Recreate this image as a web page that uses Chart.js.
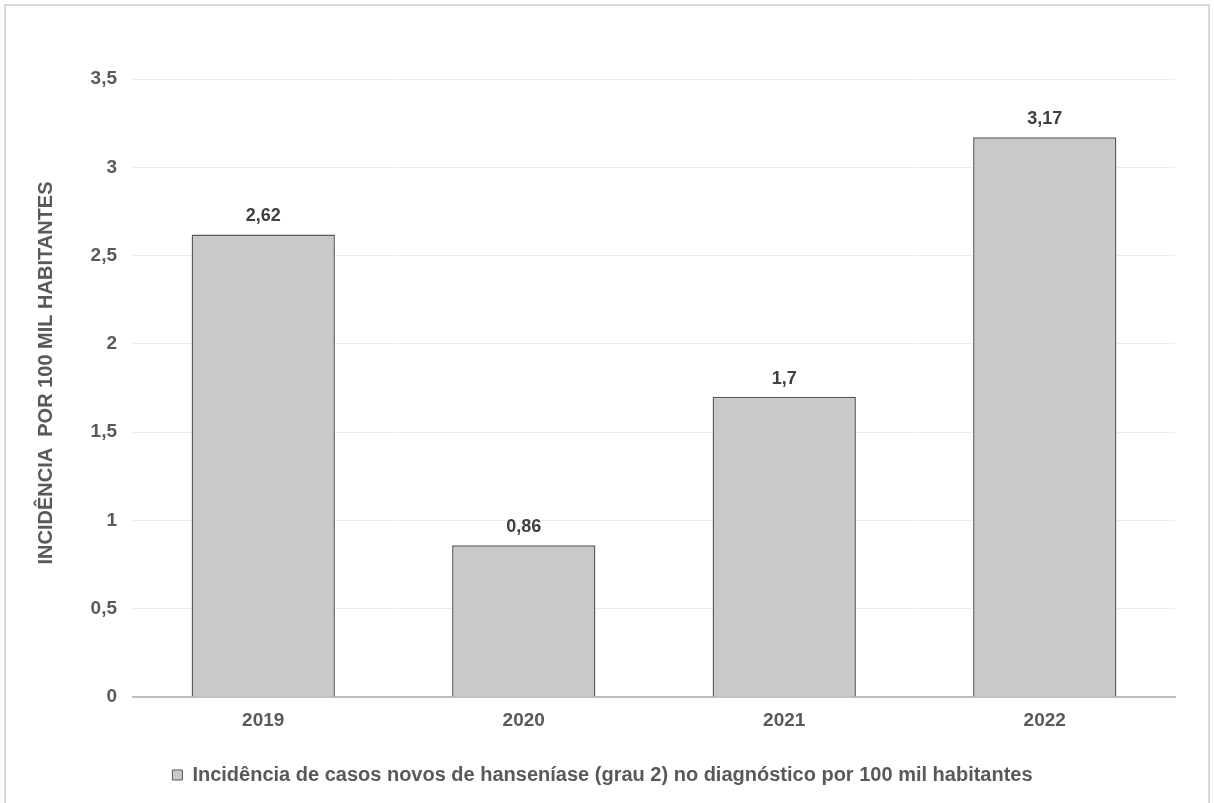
<!DOCTYPE html>
<html lang="pt-BR">
<head>
<meta charset="utf-8">
<title>Incidência de hanseníase grau 2</title>
<script src="https://cdn.jsdelivr.net/npm/chart.js@4.4.1/dist/chart.umd.min.js"></script>
<style>
  html, body { margin: 0; padding: 0; background: #ffffff; }
  #wrap { position: relative; width: 1214px; height: 803px; overflow: hidden; }
  #frame { position: absolute; left: 4px; top: 4px; width: 1206px; height: 820px;
           border: 2px solid #d9d9d9; box-sizing: border-box; pointer-events: none; }
  canvas { position: absolute; left: 0; top: 0; }
</style>
</head>
<body>
<div id="wrap">
  <canvas id="chart" width="1214" height="803"></canvas>
  <div id="frame"></div>
</div>
<script>
// Anos e incidência de casos novos com grau 2 de incapacidade (por 100 mil hab.)
const years = ['2019', '2020', '2021', '2022'];
const incidence = [2.62, 0.86, 1.7, 3.17];
const yTicks = [0, 0.5, 1, 1.5, 2, 2.5, 3, 3.5];
const seriesLabel = 'Incidência de casos novos de hanseníase (grau 2) no diagnóstico por 100 mil habitantes';
const yTitle = 'INCIDÊNCIA  POR 100 MIL HABITANTES';

const FONT = '"Liberation Sans", Arial, sans-serif';
const fmt = v => String(v).replace('.', ',');

// Rótulos de valor acima de cada barra
const valueLabels = {
  id: 'valueLabels',
  afterDatasetsDraw(chart) {
    const ctx = chart.ctx;
    const meta = chart.getDatasetMeta(0);
    ctx.save();
    ctx.font = 'bold 18px ' + FONT;
    ctx.fillStyle = '#404040';
    ctx.textAlign = 'center';
    ctx.textBaseline = 'bottom';
    meta.data.forEach((bar, i) => {
      ctx.fillText(fmt(chart.data.datasets[0].data[i]), bar.x, bar.y - 9);
    });
    ctx.restore();
  }
};

// Título do eixo vertical, girado, um pouco acima do centro da área do gráfico
const yAxisTitle = {
  id: 'yAxisTitle',
  afterDraw(chart) {
    const ctx = chart.ctx;
    const area = chart.chartArea;
    ctx.save();
    ctx.translate(46, (area.top + area.bottom) / 2 - 15);
    ctx.rotate(-Math.PI / 2);
    ctx.font = 'bold 20px ' + FONT;
    ctx.fillStyle = '#595959';
    ctx.textAlign = 'center';
    ctx.textBaseline = 'middle';
    ctx.fillText(yTitle, 0, 0);
    ctx.restore();
  }
};

new Chart(document.getElementById('chart'), {
  type: 'bar',
  data: {
    labels: years,
    datasets: [{
      label: seriesLabel,
      data: incidence,
      backgroundColor: '#c9c9c9',
      borderColor: '#595959',
      borderWidth: 1.5,
      barPercentage: 0.55,
      categoryPercentage: 1
    }]
  },
  options: {
    responsive: false,
    animation: false,
    devicePixelRatio: 1,
    layout: { padding: { left: 30, right: 39, top: 79, bottom: 8 } },
    plugins: {
      tooltip: { enabled: false },
      legend: {
        position: 'bottom',
        labels: {
          color: '#595959',
          font: { family: FONT, size: 20, weight: 'bold' },
          boxWidth: 10,
          boxHeight: 10,
          padding: 10,
          generateLabels: chart => [{
            text: seriesLabel,
            fillStyle: '#c9c9c9',
            strokeStyle: '#595959',
            lineWidth: 1,
            fontColor: '#595959',
            datasetIndex: 0
          }]
        }
      }
    },
    scales: {
      x: {
        grid: { display: false, drawTicks: false },
        border: { display: true, color: '#bfbfbf', width: 2 },
        ticks: { color: '#595959', padding: 12, font: { family: FONT, size: 19, weight: 'bold' } },
        afterFit: s => { s.height = 58; }
      },
      y: {
        min: 0,
        max: 3.5,
        afterBuildTicks: s => { s.ticks = yTicks.map(v => ({ value: v })); },
        grid: { color: '#ececec', lineWidth: 1, drawTicks: false },
        border: { display: false },
        ticks: {
          color: '#595959',
          padding: 16,
          font: { family: FONT, size: 19, weight: 'bold' },
          callback: v => fmt(v)
        },
        afterFit: s => { s.width = 103; }
      }
    }
  },
  plugins: [valueLabels, yAxisTitle]
});
</script>
</body>
</html>
